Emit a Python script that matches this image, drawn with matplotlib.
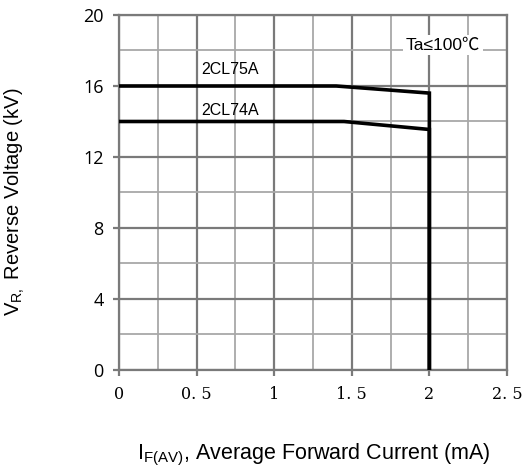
import matplotlib.pyplot as plt
import numpy as np

# datos de las curvas
x_75 = [0, 1.4, 2.0, 2.0]
y_75 = [16, 16, 15.6, 0]
x_74 = [0, 1.45, 2.0, 2.0]
y_74 = [14, 14, 13.55, 0]
etiquetas = ["2CL75A", "2CL74A"]
xticks = [0, 0.5, 1, 1.5, 2, 2.5]
xtick_labels = ["0", "0. 5", "1", "1. 5", "2", "2. 5"]
yticks = [0, 4, 8, 12, 16, 20]

plt.rcParams['mathtext.fontset'] = 'custom'
plt.rcParams['mathtext.rm'] = 'Liberation Sans'

fig = plt.figure(figsize=(5.27, 4.70), dpi=100)
ax = fig.add_axes([0.2258, 0.2128, 0.7362, 0.7553])

# rejilla
for xv in np.arange(0, 2.51, 0.25):
    mayor = abs(xv * 2 - round(xv * 2)) < 1e-9
    ax.axvline(xv, color="#7a7a7a" if mayor else "#a8a8a8", lw=1.6 if mayor else 1.3, zorder=1)
for yv in range(0, 21, 2):
    mayor = yv % 4 == 0
    ax.axhline(yv, color="#7a7a7a" if mayor else "#a8a8a8", lw=1.6 if mayor else 1.3, zorder=1)

ax.plot(x_75, y_75, color="black", lw=2.6, zorder=3, solid_joinstyle="miter")
ax.plot(x_74, y_74, color="black", lw=2.6, zorder=3, solid_joinstyle="miter")

ax.text(0.53, 16.95, etiquetas[0], fontsize=11.5, family="Liberation Sans", va="center", zorder=4)
ax.text(0.53, 14.6, etiquetas[1], fontsize=11.5, family="Liberation Sans", va="center", zorder=4)
ax.text(1.85, 18.3, "Ta≤100℃", fontsize=12.5, family=["Liberation Sans", "Noto Sans CJK SC", "DejaVu Sans"],
        va="center", zorder=4,
        bbox=dict(facecolor="white", edgecolor="none", pad=2))

ax.set_xlim(0, 2.5)
ax.set_ylim(0, 20)
ax.set_xticks(xticks)
ax.set_xticklabels(xtick_labels, family="DejaVu Serif", fontsize=11.5)
ax.set_yticks(yticks)
ax.set_yticklabels([str(v) for v in yticks], family="Open Sans", fontsize=13)
ax.tick_params(axis="both", color="#7a7a7a", width=1.6, length=4.5)
ax.tick_params(axis="x", pad=7)
ax.tick_params(axis="y", pad=6.5)
for s in ax.spines.values():
    s.set_color("#7a7a7a")
    s.set_linewidth(1.6)

fig.text(0.595, 0.032, r"$\mathregular{I_{F(AV)}}$, Average Forward Current (mA)",
         family="Liberation Sans", fontsize=15.5, ha="center", va="center")
fig.text(0.028, 0.57, r"$\mathregular{V_{R,}}$ Reverse Voltage (kV)",
         family="Liberation Sans", fontsize=14.5, ha="center", va="center", rotation=90)

plt.savefig("out.png", dpi=100)
